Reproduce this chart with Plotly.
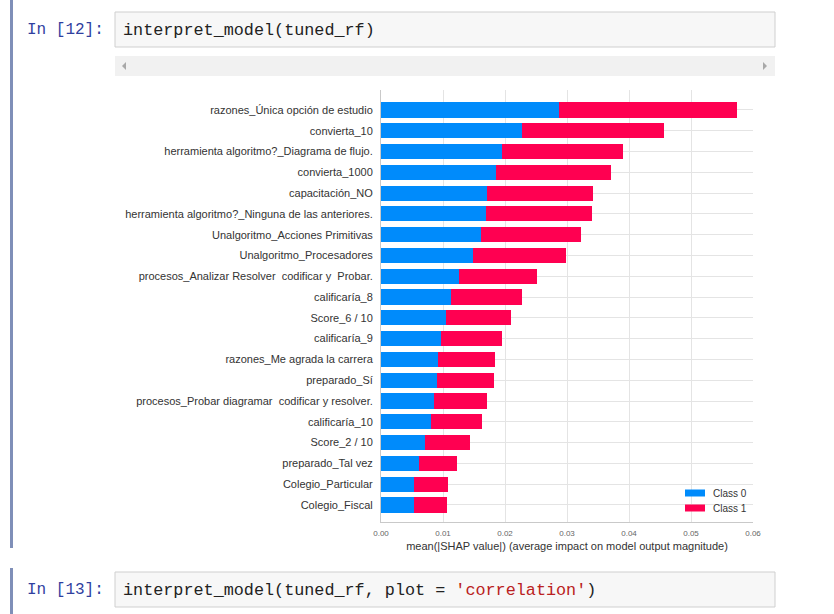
import plotly.graph_objects as go

# Mean |SHAP| per feature, split by class (stacked horizontally)
features = [
    "razones_Única opción de estudio",
    "convierta_10",
    "herramienta algoritmo?_Diagrama de flujo.",
    "convierta_1000",
    "capacitación_NO",
    "herramienta algoritmo?_Ninguna de las anteriores.",
    "Unalgoritmo_Acciones Primitivas",
    "Unalgoritmo_Procesadores",
    "procesos_Analizar Resolver  codificar y  Probar.",
    "calificaría_8",
    "Score_6 / 10",
    "calificaría_9",
    "razones_Me agrada la carrera",
    "preparado_Sí",
    "procesos_Probar diagramar  codificar y resolver.",
    "calificaría_10",
    "Score_2 / 10",
    "preparado_Tal vez",
    "Colegio_Particular",
    "Colegio_Fiscal",
]
class0 = [0.0287, 0.0227, 0.0195, 0.0185, 0.0171, 0.0169, 0.0161, 0.0148, 0.0126, 0.0113,
          0.0105, 0.0097, 0.0092, 0.0090, 0.0085, 0.0081, 0.0071, 0.0061, 0.0053, 0.0053]
class1 = [0.0287, 0.0229, 0.0195, 0.0186, 0.0171, 0.0171, 0.0162, 0.0150, 0.0126, 0.0114,
          0.0105, 0.0098, 0.0092, 0.0092, 0.0086, 0.0082, 0.0073, 0.0062, 0.0055, 0.0053]
class_names = ["Class 0", "Class 1"]
class_colors = ["#008bfb", "#ff0051"]
x_ticks = [0.0, 0.01, 0.02, 0.03, 0.04, 0.05, 0.06]
x_title = "mean(|SHAP value|) (average impact on model output magnitude)"

W, H = 834, 614
# the page body keeps an 8px margin on each side, so the drawing area is 818px wide
PAGE_OFF, PAGE_W = 8, 818


def px(x):
    return (x - PAGE_OFF) / PAGE_W


def py(y):
    return 1 - y / H


fig = go.Figure()
for name, vals, col in zip(class_names, [class0, class1], class_colors):
    fig.add_trace(go.Bar(
        y=features, x=vals, name=name, orientation="h",
        marker=dict(color=col, line=dict(width=0)),
        width=0.73, showlegend=False,
    ))

sans = "Liberation Sans, Arial, sans-serif"
mono = "Liberation Mono, DejaVu Sans Mono, monospace"

fig.update_layout(
    width=W, height=H,
    margin=dict(l=0, r=0, t=0, b=0),
    paper_bgcolor="white", plot_bgcolor="white",
    barmode="stack", bargap=0,
    xaxis=dict(
        domain=[px(381), px(753)], range=[0, 0.06],
        tickvals=x_ticks, ticktext=[f"{v:.2f}" for v in x_ticks],
        tickfont=dict(family=sans, size=8, color="#666666"),
        showgrid=True, gridcolor="#e4e4e4", gridwidth=1,
        zeroline=False, showline=True, linecolor="#c9c9c9", linewidth=1,
        ticks="", ticklabelstandoff=3,
        title=dict(text=x_title, font=dict(family=sans, size=11, color="#333333"), standoff=5),
    ),
    yaxis=dict(
        domain=[py(522), py(90)], range=[19.82, -0.96],
        type="category", categoryorder="array", categoryarray=features,
        tickfont=dict(family=sans, size=11, color="#333333"),
        showgrid=True, gridcolor="#e4e4e4", gridwidth=1,
        zeroline=False, showline=True, linecolor="#c9c9c9", linewidth=1,
        ticks="", ticklabelstandoff=5,
    ),
)

shapes = []
annotations = []

# notebook cell markers on the left edge
for y0, y1 in [(0, 548), (568, 614)]:
    shapes.append(dict(type="rect", xref="paper", yref="paper", x0=px(10), x1=px(13), y0=py(y1), y1=py(y0),
                       fillcolor="#7f8fb8", line=dict(width=0), layer="below"))

# input boxes
for y0, y1 in [(12, 47), (572, 607)]:
    shapes.append(dict(type="rect", xref="paper", yref="paper", x0=px(115), x1=px(775), y0=py(y1), y1=py(y0),
                       fillcolor="#f7f7f7", line=dict(color="#cfcfcf", width=1), layer="below"))

# horizontal scrollbar under the first cell
shapes.append(dict(type="rect", xref="paper", yref="paper", x0=px(115), x1=px(775), y0=py(76), y1=py(56),
                   fillcolor="#f1f1f1", line=dict(width=0), layer="below"))
shapes.append(dict(type="path", xref="paper", yref="paper",
                   path=f"M {px(126)} {py(62)} L {px(122)} {py(66)} L {px(126)} {py(70)} Z",
                   fillcolor="#a8a8a8", line=dict(width=0)))
shapes.append(dict(type="path", xref="paper", yref="paper",
                   path=f"M {px(763)} {py(62)} L {px(767)} {py(66)} L {px(763)} {py(70)} Z",
                   fillcolor="#a8a8a8", line=dict(width=0)))

# prompts and code
annotations.append(dict(text="In [12]:", x=px(25), y=py(30), xref="paper", yref="paper",
                        xanchor="left", yanchor="middle", showarrow=False,
                        font=dict(family=mono, size=16, color="#303F9F")))
annotations.append(dict(text="interpret_model(tuned_rf)", x=px(121), y=py(30), xref="paper", yref="paper",
                        xanchor="left", yanchor="middle", showarrow=False,
                        font=dict(family=mono, size=16.8, color="#222222")))
annotations.append(dict(text="In [13]:", x=px(25), y=py(590), xref="paper", yref="paper",
                        xanchor="left", yanchor="middle", showarrow=False,
                        font=dict(family=mono, size=16, color="#303F9F")))
annotations.append(dict(text="interpret_model(tuned_rf, plot = <span style='color:#BA2121'>'correlation'</span>)",
                        x=px(121), y=py(590), xref="paper", yref="paper",
                        xanchor="left", yanchor="middle", showarrow=False,
                        font=dict(family=mono, size=16.8, color="#222222")))

# legend drawn as colour patches with labels
for i, (name, col) in enumerate(zip(class_names, class_colors)):
    yc = 493 + 15 * i
    shapes.append(dict(type="rect", xref="paper", yref="paper", x0=px(685), x1=px(705),
                       y0=py(yc + 3.5), y1=py(yc - 3.5), fillcolor=col, line=dict(width=0)))
    annotations.append(dict(text=name, x=px(711), y=py(yc), xref="paper", yref="paper",
                            xanchor="left", yanchor="middle", showarrow=False,
                            font=dict(family=sans, size=10, color="#333333")))

fig.update_layout(shapes=shapes, annotations=annotations)
fig.write_html("out.html")
